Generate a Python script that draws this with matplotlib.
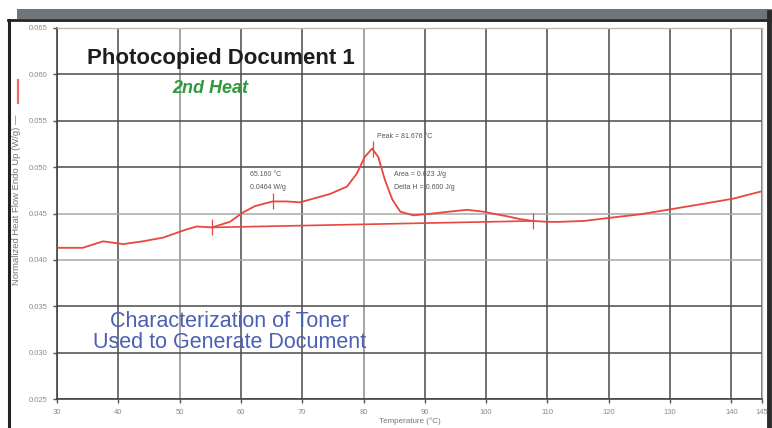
"""
DSC křivka – Photocopied Document 1, 2nd Heat (rekonstrukce grafu).
"""
import numpy as np
import matplotlib
matplotlib.use("Agg")
import matplotlib.pyplot as plt
from matplotlib.lines import Line2D
from matplotlib.patches import Rectangle

plt.rcParams['font.family'] = ['Liberation Sans', 'DejaVu Sans']

# ── data ─────────────────────────────────────────────────────────────────────
temp = [30, 34.2, 37.5, 40.8, 44, 47.3, 51.2, 52.8, 55.3, 58.2, 60.3, 62.3,
        65.2, 67.5, 69.6, 71.8, 74.5, 77.3, 78.9, 80.2, 81.4, 82.4, 83.5,
        84.7, 86, 88.1, 91.3, 94, 96.9, 99.5, 101.8, 103.4, 105.5, 107.6,
        110, 112, 116, 119.7, 125, 130.5, 135, 140.3, 145]
heat_flow = [0.0413, 0.0413, 0.0420, 0.0417, 0.0420, 0.0424, 0.0433, 0.0436,
             0.0435, 0.0441, 0.0451, 0.0458, 0.0463, 0.0463, 0.0462, 0.0466,
             0.0471, 0.0479, 0.0493, 0.0511, 0.0520, 0.0511, 0.0486, 0.0465,
             0.0452, 0.0448, 0.0450, 0.0452, 0.0454, 0.0452, 0.0449, 0.0447,
             0.0444, 0.0442, 0.0441, 0.0441, 0.0442, 0.0445, 0.0449, 0.0455,
             0.0460, 0.0466, 0.0474]

# integrační základna píku
base_t = [55.3, 107.6]
base_hf = [0.0435, 0.0442]

# značky (počátek, onset, pík, konec)
mark_t = [55.3, 65.2, 81.5, 107.6]
mark_hf = [0.0435, 0.0463, 0.0520, 0.0442]

xticks = [30, 40, 50, 60, 70, 80, 90, 100, 110, 120, 130, 140, 145]
yticks = [0.025, 0.030, 0.035, 0.040, 0.045, 0.050, 0.055, 0.060, 0.065]

RED = '#e8463e'
W, H = 772, 428

fig = plt.figure(figsize=(W/100, H/100), dpi=100)
ax = fig.add_axes([57/W, 29/H, 705/W, 371/H])

ax.plot(temp, heat_flow, color=RED, lw=1.3, zorder=3)
ax.plot(base_t, base_hf, color=RED, lw=1.2, zorder=3)
ax.plot(mark_t, mark_hf, ls='none', marker='|', ms=11, mew=0.9, color=RED, zorder=3)

ax.set_xlim(30, 145)
ax.set_ylim(0.025, 0.065)
ax.set_xticks(xticks)
ax.set_xticklabels([str(t) for t in xticks])
ax.set_yticks(yticks)
ax.set_yticklabels([f"{v:.3f}" for v in yticks])
ax.tick_params(labelsize=5.5, labelcolor='#8a8a8a', length=3, width=1,
               color='#555555', pad=4)

ax.grid(True, color='#4a4a4a', lw=1.1)
# některé čáry mřížky jsou ve skenu světlejší
for v, gl in zip(yticks, ax.get_ygridlines()):
    if v in (0.040, 0.045):
        gl.set_color('#a8a8a8')
for t, gl in zip(xticks, ax.get_xgridlines()):
    if t in (50, 80):
        gl.set_color('#8c8c8c')

for sp in ['left', 'bottom']:
    ax.spines[sp].set_color('#444444'); ax.spines[sp].set_linewidth(1.2)
for sp in ['top', 'right']:
    ax.spines[sp].set_color('#bbbbbb'); ax.spines[sp].set_linewidth(1.0)

# popisky píku
ann = dict(fontsize=5, color='#555555', va='center', ha='left')
ax.text(61.5, 0.0492, "65.160 °C", **ann)
ax.text(61.5, 0.0478, "0.0464 W/g", **ann)
ax.text(82.2, 0.0533, "Peak = 81.676 °C", **ann)
ax.text(85.0, 0.0492, "Area = 0.623 J/g", **ann)
ax.text(85.0, 0.0478, "Delta H = 0.600 J/g", **ann)

# nadpisy uvnitř grafu
ax.text(0.2326, 0.919, "Photocopied Document 1", transform=ax.transAxes,
        fontsize=16, fontweight='bold', color='#1e1e1e', ha='center', va='center')
ax.text(0.217, 0.836, "2nd Heat", transform=ax.transAxes, fontsize=13,
        fontweight='bold', fontstyle='italic', color='#2f9a3c',
        ha='center', va='center')
ax.text(0.245, 0.180, "Characterization of Toner\nUsed to Generate Document",
        transform=ax.transAxes, fontsize=15.5, color='#4b5fb4',
        ha='center', va='center', linespacing=1.02)

# osy – popisky
fig.text(17/W, 1-200/H, "Normalized Heat Flow Endo Up (W/g) —", rotation=90,
         fontsize=6.8, color='#777777', ha='center', va='center')
fig.add_artist(Line2D([18/W, 18/W], [1-103/H, 1-80/H], color=RED, lw=1.6, alpha=0.8))
fig.text(410/W, 1-421/H, "Temperature (°C)", fontsize=5.8, color='#777777',
         ha='center', va='center')

# rám okna (šedý pruh nahoře, černé okraje)
fig.add_artist(Rectangle((17/W, 1-19/H), 1-17/W, 10/H, transform=fig.transFigure,
                         fc='#6f7579', ec='none'))
fig.add_artist(Line2D([8/W, 770/W], [1-20/H, 1-20/H], color='#222222', lw=2))
fig.add_artist(Line2D([9/W, 9/W], [0, 1-20/H], color='#222222', lw=2.2))
fig.add_artist(Line2D([769/W, 769/W], [0, 1-12/H], color='#2a2a2a', lw=3.5))

plt.savefig("out.png", dpi=100)
